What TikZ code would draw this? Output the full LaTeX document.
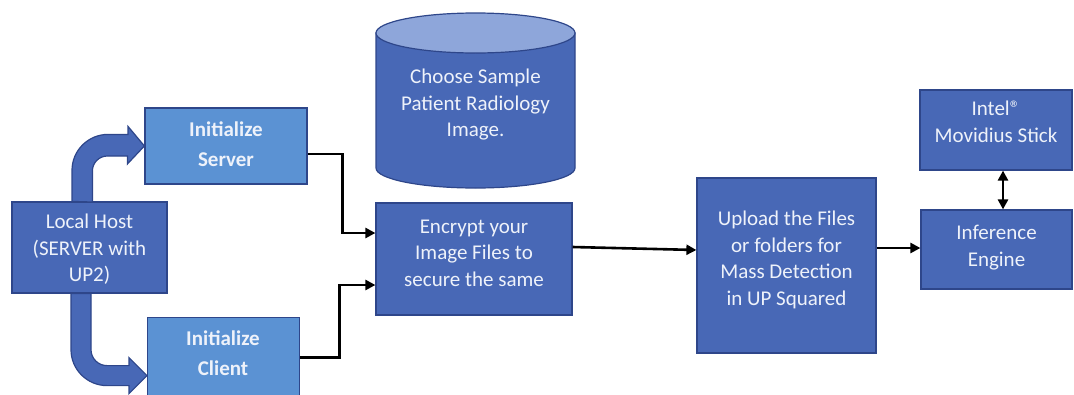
\documentclass[tikz,border=0pt]{standalone}
\usepackage{fontspec}
\setmainfont{Carlito}
\usetikzlibrary{arrows.meta,calc}

\definecolor{boxblue}{RGB}{72,104,182}
\definecolor{lightblue}{RGB}{91,146,211}
\definecolor{edgeblue}{RGB}{46,70,138}
\definecolor{captop}{RGB}{142,166,218}
\definecolor{labelwhite}{RGB}{238,242,250}

\tikzset{
  darkbox/.style={draw=edgeblue, line width=1.2pt, fill=boxblue, inner sep=0pt},
  lightbox/.style={darkbox, fill=lightblue},
  label text/.style={text=labelwhite, align=center, inner sep=0pt,
    font=\fontsize{21}{26.5}\selectfont},
  bold text/.style={label text, font=\fontsize{21}{30}\selectfont\bfseries},
  conn/.style={draw=black, line width=2.6pt, -{Triangle[length=10pt,width=10pt]}},
  biconn/.style={draw=black, line width=2.6pt,
    {Triangle[length=10pt,width=10pt]}-{Triangle[length=10pt,width=10pt]}},
  blockarrow/.style={draw=edgeblue, line width=1.2pt, fill=boxblue, line join=miter},
}

\begin{document}
\begin{tikzpicture}[x=1pt,y=-1pt]
\useasboundingbox (0,0) rectangle (1074,394);
\clip (0,0) rectangle (1074,394);

% image store (cylinder)
\path[fill=boxblue, draw=edgeblue, line width=1.2pt]
  (376,33) -- (376,168) arc[start angle=180, end angle=0, x radius=99.5, y radius=20]
  -- (575,33) -- cycle;
\path[fill=captop, draw=edgeblue, line width=1.2pt]
  (475.5,33) ellipse[x radius=99.5, y radius=20];
\node[label text] (store) at (475.5,105)
  {Choose Sample\\Patient Radiology\\Image.};

% process boxes
\node[darkbox, minimum width=155pt, minimum height=91pt] (host) at (89.5,247.5) {};
\node[label text] (hosttext) at (89.5,249.5) {Local Host\\(SERVER with\\UP2)};

\node[lightbox, minimum width=162pt, minimum height=76pt] (server) at (226,146) {};
\node[bold text] (servertext) at (226,144) {Initialize\\Server};

\node[lightbox, minimum width=152pt, minimum height=86pt, anchor=north west] (client) at (147,317) {};
\node[bold text] (clienttext) at (223,353) {Initialize\\Client};

\node[darkbox, minimum width=196pt, minimum height=112pt] (encrypt) at (474,259) {};
\node[label text] (encrypttext) at (474,253) {Encrypt your\\Image Files to\\secure the same};

\node[darkbox, minimum width=179pt, minimum height=175pt] (upload) at (786.5,265.5) {};
\node[label text] (uploadtext) at (786.5,260)
  {Upload the Files\\or folders for\\Mass Detection\\in UP Squared};

\node[darkbox, minimum width=151pt, minimum height=79pt] (inference) at (996.5,249.5) {};
\node[label text] (inferencetext) at (996.5,247.5) {Inference\\Engine};

\node[darkbox, minimum width=152pt, minimum height=80pt] (movidius) at (996,130) {};
\node[label text] (movidiustext) at (996,122)
  {Intel®\\Movidius Stick};

% bent block arrows out of the local host
\path[blockarrow]
  ([xshift=-17.5pt]host.north) -- ++(0,-31)
  arc[start angle=180, end angle=270, radius=36]
  -- ++(20,0) -- ++(0,-8) -- (server.west) -- ++(-17,18) -- ++(0,-8) -- ++(-20,0)
  arc[start angle=270, end angle=180, radius=15]
  -- ++(0,31) -- cycle;
\path[blockarrow]
  ([xshift=-18.5pt]host.south) -- ++(0,56)
  arc[start angle=180, end angle=90, radius=36]
  -- ++(22,0) -- ++(0,8) -- ([yshift=-15pt]client.west) -- ++(-18,-18) -- ++(0,8) -- ++(-22,0)
  arc[start angle=90, end angle=180, radius=16]
  -- ++(0,-56) -- cycle;

% connectors
\draw[conn] ([yshift=-8pt]server.east) -- ++(35,0) |- ([yshift=26pt]encrypt.west);
\draw[conn] ([yshift=3pt]client.east) -- ++(39,0) |- ([yshift=-26pt]encrypt.west);
\draw[conn] ([yshift=12pt]encrypt.east) -- ([yshift=15.5pt]upload.west);
\draw[conn] ([yshift=17.5pt]upload.east) -- ([yshift=1.5pt]inference.west);
\draw[biconn] ([xshift=7pt]movidius.south) -- ([xshift=6.5pt]inference.north);
\end{tikzpicture}
\end{document}
